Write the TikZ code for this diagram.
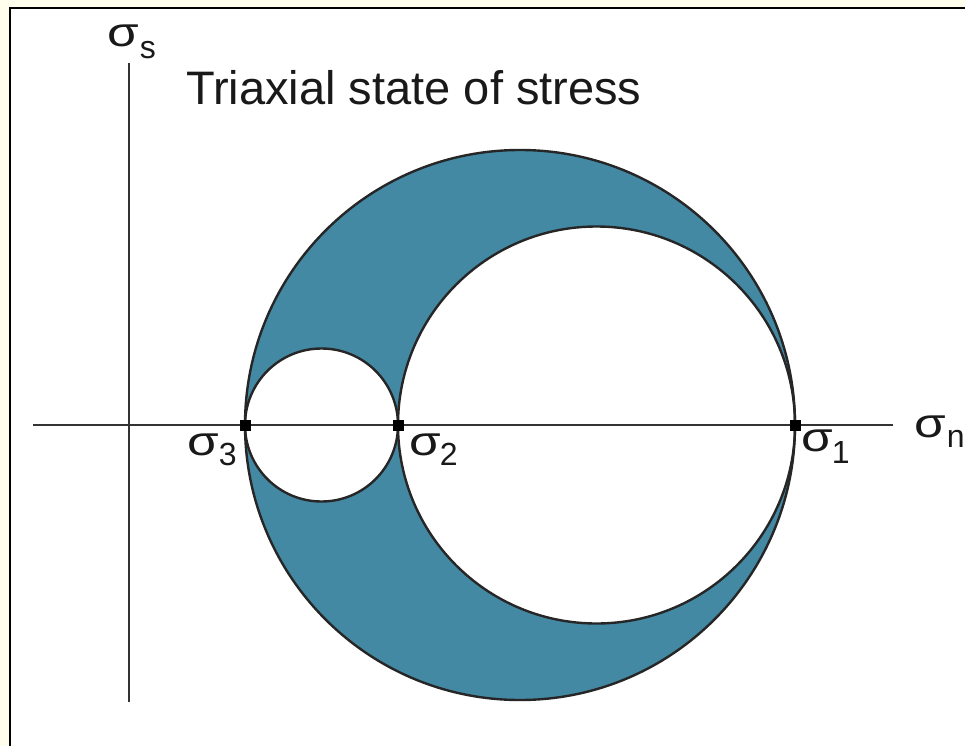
\documentclass[tikz,border=0pt]{standalone}
\usepackage{fontspec}
\usepackage{graphicx}
\setmainfont{Liberation Sans}
\definecolor{fillblue}{RGB}{68,137,163}
\definecolor{cream}{RGB}{255,253,235}
\newcommand{\mysig}{\scalebox{1.25}[1]{σ}}
\newcommand{\mysub}[2][10pt]{\raisebox{-#1}{\fontsize{32}{32}\selectfont #2}}
\begin{document}
\begin{tikzpicture}[x=1pt,y=-1pt,
  axis/.style={line width=2pt, draw=black!80},
  circ/.style={line width=2.4pt, draw=black!85},
  ptbox/.style={fill=black, minimum size=11pt, inner sep=0pt, rectangle},
  lab/.style={inner sep=0pt, font=\fontsize{41}{41}\selectfont, text=black!90},
  ttl/.style={inner sep=0pt, font=\fontsize{47}{47}\selectfont, text=black!90}]
\useasboundingbox (0,0) rectangle (965,746);
\fill[cream] (0,0) rectangle (965,746);
\fill[white] (10,8) rectangle (965,746);
\draw[line width=2pt] (10,746) -- (10,8) -- (965,8);
% centres
\coordinate (cb) at (520,425);
\coordinate (cm) at (596.5,425);
\coordinate (cs) at (321.5,425);
% fill
\fill[fillblue, even odd rule] (cb) circle[radius=275pt] (cm) circle[radius=198.5pt] (cs) circle[radius=76.5pt];
% axes
\coordinate (xa) at (33,425);
\coordinate (xb) at (893,425);
\coordinate (ya) at (129,63);
\coordinate (yb) at (129,702);
\draw[axis] (xa) -- (xb);
\draw[axis] (ya) -- (yb);
% circles
\draw[circ] (cb) circle[radius=275pt];
\draw[circ] (cm) circle[radius=198.5pt];
\draw[circ] (cs) circle[radius=76.5pt];
% points
\node[ptbox] (p3) at (245,425) {};
\node[ptbox] (p2) at (398,425) {};
\node[ptbox] (p1) at (795,425) {};
% labels
\node[lab, anchor=base west] (ls) at (107,47) {\mysig\kern1pt\mysub[12pt]{s}};
\node[lab, anchor=base west] (ln) at (914,437) {\mysig\kern1pt\mysub{n}};
\node[lab, anchor=base west] (l1) at (801,451) {\mysig\kern-1pt\mysub[12pt]{1}};
\node[lab, anchor=base west] (l2) at (409,455) {\mysig\kern-1pt\mysub{2}};
\node[lab, anchor=base west] (l3) at (187,455) {\mysig\kern0pt\mysub{3}};
\node[ttl, anchor=base west] (title) at (186,105) {Triaxial state of stress};
\end{tikzpicture}
\end{document}
